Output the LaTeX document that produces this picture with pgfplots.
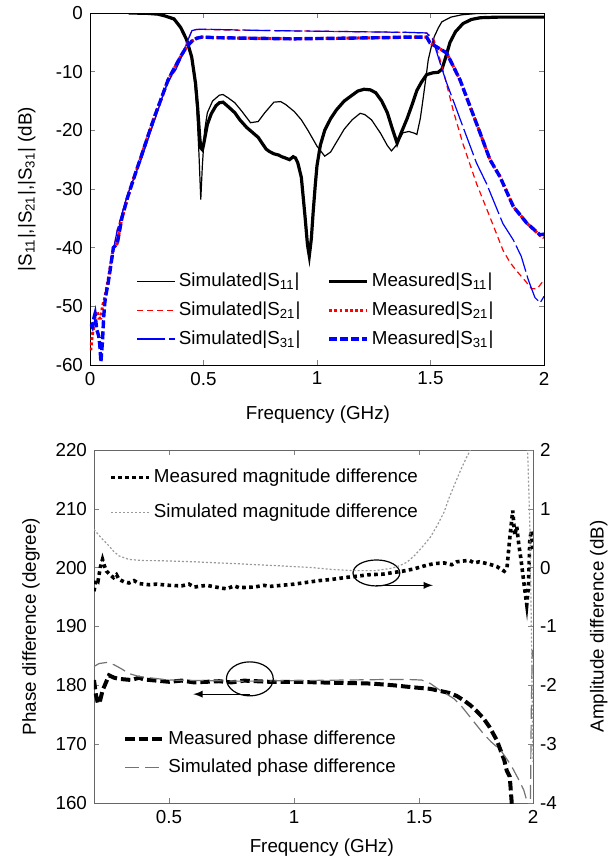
\documentclass[border=0pt]{standalone}
\usepackage{pgfplots}
\pgfplotsset{compat=1.18}
\usepackage{fontspec}
\setmainfont{Liberation Sans}

\newcommand{\fs}{\fontsize{9.4}{11}\selectfont}
\pgfplotsset{
  mplot/.style={
    scale only axis, tick align=inside, major tick length=2.5pt,
    /pgf/number format/assume math mode=true,
    tick label style={font=\fs}, label style={font=\fs},
    legend style={font=\fs, draw=none, fill=none, anchor=north west,
                  inner sep=0pt, nodes={inner sep=1.5pt}},
    legend cell align=left,
    legend image code/.code={\draw[##1] (0pt,0pt) -- (19pt,0pt);},
    ylabel style={anchor=center},
    xlabel style={anchor=center},
  },
}

\begin{document}
\begin{tikzpicture}
\useasboundingbox (0,0) rectangle (305.5pt,431.5pt);

% ---------------- top panel: S-parameters ----------------
\begin{axis}[mplot,
  at={(45pt,249pt)}, anchor=south west, width=227pt, height=176pt,
  xmin=0, xmax=2, ymin=-60, ymax=0,
  xtick={0,0.5,1,1.5,2}, ytick={-60,-50,-40,-30,-20,-10,0},
  xtick pos=both, ytick pos=both,
  xlabel={Frequency (GHz)},
  ylabel={|S\textsubscript{11}|,|S\textsubscript{21}|,|S\textsubscript{31}| (dB)},
  xlabel style={at={(axis description cs:0.502,-0.14)}},
  ylabel style={at={(axis description cs:-0.139,0.5)}},
  legend columns=2,
  legend style={at={(0.102,0.27)}, row sep=3pt,
                /tikz/every even column/.append style={column sep=12pt}},
]
% simulated S11
\addplot[black, line width=0.6pt] coordinates {
(0.17,0) (0.25,-0.05) (0.3,-0.2) (0.33,-0.5) (0.37,-1.2) (0.41,-3) (0.44,-6)
(0.457,-10) (0.47,-16) (0.48,-24) (0.488,-31.8) (0.495,-26) (0.505,-20)
(0.517,-17) (0.54,-15) (0.57,-14) (0.586,-13.9) (0.61,-14.5) (0.638,-15.3)
(0.67,-16.8) (0.707,-18.7) (0.741,-18.5) (0.77,-17) (0.81,-15.2) (0.84,-15.1)
(0.862,-15.6) (0.9,-16.8) (0.931,-18.2) (0.96,-20) (1.0,-22.7) (1.034,-24.4)
(1.06,-23.7) (1.086,-22) (1.12,-19.8) (1.155,-18.2) (1.19,-17.1) (1.21,-17.3)
(1.24,-18.2) (1.28,-20.5) (1.31,-22.6) (1.328,-23.5) (1.35,-22.5) (1.379,-20.4)
(1.405,-20.2) (1.43,-20.5) (1.44,-20.7) (1.455,-18) (1.466,-15) (1.48,-11)
(1.49,-8) (1.505,-5.5) (1.517,-4) (1.535,-2.5) (1.55,-1.5) (1.59,-0.7)
(1.638,-0.3) (1.7,-0.1) (1.845,0)};
\addlegendentry{Simulated|S\textsubscript{11}|}
% measured S11
\addplot[black, line width=1.6pt] coordinates {
(0.17,0) (0.25,-0.05) (0.3,-0.2) (0.33,-0.5) (0.37,-1) (0.4,-2.5) (0.425,-4.5)
(0.448,-7.5) (0.465,-12) (0.474,-16) (0.483,-21) (0.488,-23) (0.495,-23.3)
(0.5,-22.5) (0.517,-19) (0.534,-17.2) (0.555,-15.8) (0.57,-15.3) (0.586,-15.2)
(0.61,-16) (0.638,-17) (0.66,-18.2) (0.69,-19.5) (0.72,-20.5) (0.741,-21.2)
(0.76,-22.3) (0.776,-23.2) (0.79,-23.6) (0.81,-24) (0.83,-24.2) (0.845,-24.5)
(0.86,-24.7) (0.879,-25) (0.895,-24.5) (0.905,-24.7) (0.915,-25.5) (0.931,-28)
(0.948,-35) (0.958,-39.5) (0.966,-41.4) (0.975,-38.5) (0.983,-34) (0.992,-29.5)
(1.0,-26) (1.015,-22.5) (1.034,-20) (1.06,-18) (1.086,-16.5) (1.12,-15)
(1.155,-14) (1.18,-13.3) (1.207,-13) (1.235,-13.1) (1.259,-13.6) (1.285,-15)
(1.31,-17) (1.33,-19.5) (1.353,-22.2) (1.37,-20.5) (1.397,-18) (1.42,-15.5)
(1.44,-13.2) (1.46,-11.8) (1.483,-10.5) (1.51,-10.2) (1.534,-10.1) (1.55,-9.6)
(1.565,-7.8) (1.586,-5) (1.61,-3.2) (1.643,-1.8) (1.68,-1.1) (1.72,-0.8)
(1.8,-0.7) (2.0,-0.7)};
\addlegendentry{Measured|S\textsubscript{11}|}
% simulated S21
\addplot[red, line width=0.6pt, dash pattern=on 3pt off 2pt] coordinates {
(0.1,-41) (0.12,-37) (0.165,-31) (0.2,-27.5) (0.225,-25) (0.26,-21) (0.3,-16.5)
(0.33,-13) (0.352,-11.2) (0.38,-9.5) (0.404,-7.4) (0.425,-5.2) (0.449,-3)
(0.47,-2.8) (0.5,-2.8) (0.6,-2.9) (0.8,-3.0) (1.0,-3.1) (1.2,-3.2) (1.4,-3.3)
(1.483,-3.4) (1.515,-4.5) (1.542,-7.9) (1.57,-12) (1.6,-16.6) (1.643,-22.3)
(1.703,-29.1) (1.762,-34.8) (1.82,-40.5) (1.85,-42.5) (1.88,-44) (1.914,-45.5)
(1.945,-47) (1.97,-47) (2.0,-45.5)};
\addlegendentry{Simulated|S\textsubscript{21}|}
% measured S21
\addplot[red, line width=1.5pt, dash pattern=on 1.4pt off 1.2pt] coordinates {
(0.003,-57.5) (0.01,-55) (0.017,-53.4) (0.025,-51) (0.03,-50.8) (0.04,-52)
(0.048,-52) (0.055,-50) (0.065,-48.6) (0.08,-45.5) (0.103,-40) (0.12,-39.3)
(0.14,-35) (0.165,-31.5) (0.19,-28.5) (0.225,-24.5) (0.255,-21) (0.284,-17.7)
(0.31,-15) (0.344,-11.4) (0.37,-9.5) (0.404,-7.1) (0.425,-5.8) (0.449,-4.8)
(0.47,-4.3) (0.494,-4.1) (0.55,-4.2) (0.7,-4.3) (0.9,-4.4) (1.1,-4.3)
(1.3,-4.2) (1.4,-4.1) (1.483,-4.1) (1.498,-5.1) (1.571,-6.8) (1.63,-11.4)
(1.674,-15.9) (1.718,-20.4) (1.762,-25) (1.806,-27.9) (1.865,-33) (1.924,-35.8)
(1.982,-37.9) (2.0,-38.3)};
\addlegendentry{Measured|S\textsubscript{21}|}
% simulated S31
\addplot[blue, line width=0.6pt, dash pattern=on 14pt off 2pt] coordinates {
(0.1,-41) (0.12,-37) (0.165,-31) (0.2,-27.5) (0.225,-25) (0.26,-21) (0.3,-16.5)
(0.33,-13) (0.352,-11.2) (0.38,-9.5) (0.404,-7.4) (0.425,-5.2) (0.449,-3)
(0.47,-2.8) (0.5,-2.75) (0.6,-2.85) (0.8,-3.0) (1.0,-3.1) (1.2,-3.2) (1.4,-3.3)
(1.483,-3.4) (1.51,-4.5) (1.542,-8.5) (1.57,-11.8) (1.6,-14.9) (1.643,-19.4)
(1.703,-25.6) (1.747,-29.1) (1.819,-35.9) (1.865,-38.7) (1.9,-41.5)
(1.931,-45.5) (1.96,-48.5) (1.983,-49.4) (2.0,-48.3)};
\addlegendentry{Simulated|S\textsubscript{31}|}
% measured S31
\addplot[blue, line width=1.7pt, dash pattern=on 4pt off 1.5pt] coordinates {
(0.003,-53) (0.01,-53.5) (0.017,-52) (0.022,-51.3) (0.03,-54) (0.038,-55)
(0.043,-56.5) (0.048,-59.5) (0.055,-56) (0.06,-52) (0.065,-49.5) (0.069,-48.3)
(0.08,-46) (0.09,-43.5) (0.103,-40) (0.12,-39.3) (0.14,-35) (0.165,-31.5)
(0.19,-28.5) (0.225,-24.5) (0.255,-21) (0.284,-17.7) (0.31,-15) (0.344,-11.4)
(0.37,-9.5) (0.404,-7.1) (0.425,-5.8) (0.449,-4.8) (0.47,-4.3) (0.494,-4.1)
(0.55,-4.2) (0.7,-4.3) (0.9,-4.4) (1.1,-4.3) (1.3,-4.2) (1.4,-4.1)
(1.483,-4.1) (1.498,-5.1) (1.571,-6.8) (1.63,-11.4) (1.674,-15.9) (1.718,-20.4)
(1.762,-25) (1.806,-27.9) (1.865,-33) (1.924,-35.8) (1.982,-37.8) (2.0,-37.7)};
\addlegendentry{Measured|S\textsubscript{31}|}
\end{axis}

% ---------------- bottom panel: phase (left axis) ----------------
\begin{axis}[mplot,
  at={(47pt,30pt)}, anchor=south west, width=219.5pt, height=176.5pt,
  xmin=0.2, xmax=1.955, ymin=160, ymax=220,
  xtick={0.5,1,1.5,1.955}, xticklabels={0.5,1,1.5,2},
  ytick={160,170,180,190,200,210,220},
  xtick pos=both, ytick pos=left,
  axis line style={black!60},
  xlabel={Frequency (GHz)}, ylabel={Phase difference (degree)},
  xlabel style={at={(axis description cs:0.519,-0.127)}},
  ylabel style={at={(axis description cs:-0.1435,0.5)}},
  legend style={at={(0.066,0.215)}, row sep=3pt},
]
\addplot[black, line width=2pt, dash pattern=on 4.7pt off 2pt] coordinates {
(0.2,180.9) (0.208,178.3) (0.216,176.9) (0.225,177.5) (0.234,179.1) (0.26,181.7)
(0.28,181.3) (0.3,181.1) (0.35,180.9) (0.38,181.3) (0.4,181.0) (0.45,180.8)
(0.5,180.6) (0.55,180.8) (0.6,180.5) (0.7,180.7) (0.75,180.5) (0.8,180.8)
(0.9,180.6) (1.0,180.6) (1.1,180.5) (1.2,180.4) (1.31,180.3) (1.4,180.0)
(1.466,179.7) (1.544,179.4) (1.6,178.9) (1.62,178.7) (1.65,178.2) (1.68,177.4)
(1.705,176.6) (1.73,175.6) (1.755,174.5) (1.78,173) (1.81,170.7) (1.825,169)
(1.84,167.3) (1.85,165.5) (1.862,164.5) (1.87,160) (1.873,158)};
\addlegendentry{Measured phase difference}
\addplot[black!55, line width=0.6pt, dash pattern=on 7pt off 3pt] coordinates {
(0.2,183.2) (0.22,183.7) (0.253,183.9) (0.28,183.5) (0.31,182.8) (0.34,182)
(0.38,181.5) (0.42,181.3) (0.5,180.9) (0.8,180.7) (1.0,180.8) (1.2,180.9)
(1.387,181) (1.45,181) (1.51,180.9) (1.545,180.3) (1.575,179.4) (1.61,178.5)
(1.64,177.7) (1.67,176.4) (1.7,174.8) (1.73,173.2) (1.76,171.6) (1.79,170.3)
(1.825,169) (1.85,167.5) (1.87,166.2) (1.9,163.8) (1.918,162.2) (1.933,160)
(1.937,157) (1.944,157) (1.948,175) (1.952,186)};
\addlegendentry{Simulated phase difference}
\draw[black, line width=0.6pt] (axis cs:1.329,199.1) ellipse [x radius=11.7pt, y radius=6.5pt];
\draw[black, line width=0.6pt, -latex] (axis cs:1.329,197.0) -- (axis cs:1.555,197.0);
\draw[black, line width=0.6pt] (axis cs:0.823,181.1) ellipse [x radius=11.7pt, y radius=8.5pt];
\draw[black, line width=0.6pt, -latex] (axis cs:0.823,178.5) -- (axis cs:0.597,178.5);
\end{axis}

% ---------------- bottom panel: amplitude (right axis) ----------------
\begin{axis}[mplot,
  at={(47pt,30pt)}, anchor=south west, width=219.5pt, height=176.5pt,
  xmin=0.2, xmax=1.955, ymin=-4, ymax=2,
  axis x line=none, axis y line*=right,
  axis line style={black!60},
  ytick={-4,-3,-2,-1,0,1,2},
  ylabel={Amplitude difference (dB)},
  ylabel style={at={(axis description cs:1.15,0.5)}},
  legend style={at={(0.034,0.955)}, row sep=6pt},
]
\addplot[black, line width=1.8pt, dash pattern=on 1.8pt off 1.7pt] coordinates {
(0.2,-0.4) (0.208,-0.2) (0.216,-0.23) (0.225,0.0) (0.234,0.14) (0.24,0.05)
(0.25,-0.06) (0.265,-0.12) (0.278,-0.17) (0.29,-0.12) (0.3,-0.2) (0.32,-0.24)
(0.34,-0.26) (0.36,-0.22) (0.38,-0.27) (0.42,-0.29) (0.45,-0.28) (0.5,-0.3)
(0.55,-0.31) (0.58,-0.28) (0.6,-0.33) (0.65,-0.3) (0.7,-0.34) (0.73,-0.36)
(0.76,-0.31) (0.78,-0.34) (0.84,-0.33) (0.88,-0.3) (0.9,-0.32) (0.95,-0.3)
(1.0,-0.28) (1.05,-0.25) (1.1,-0.22) (1.15,-0.2) (1.2,-0.17) (1.26,-0.14)
(1.3,-0.12) (1.356,-0.11) (1.4,-0.08) (1.434,-0.06) (1.48,-0.02) (1.52,0.03)
(1.56,0.07) (1.6,0.08) (1.63,0.05) (1.65,0.1) (1.7,0.125) (1.72,0.08)
(1.74,0.1) (1.78,0.06) (1.81,0.02) (1.84,-0.06) (1.851,0.0) (1.862,0.5)
(1.874,0.97) (1.882,0.55) (1.89,0.7) (1.898,0.4) (1.906,0.17) (1.914,-0.1)
(1.921,-0.34) (1.93,-0.63) (1.937,-0.3) (1.942,0.45) (1.948,0.63) (1.955,0.3)};
\addlegendentry{Measured magnitude difference}
\addplot[black!40, line width=0.6pt, dash pattern=on 1pt off 1pt] coordinates {
(0.2,0.65) (0.23,0.5) (0.26,0.37) (0.278,0.28) (0.3,0.2) (0.34,0.14) (0.4,0.12)
(0.45,0.12) (0.528,0.11) (0.6,0.1) (0.7,0.08) (0.76,0.07) (0.85,0.05)
(0.95,0.03) (1.075,0.0) (1.15,-0.03) (1.23,-0.05) (1.325,-0.05) (1.39,-0.01)
(1.42,0.03) (1.45,0.09) (1.48,0.2) (1.51,0.34) (1.545,0.52) (1.575,0.74)
(1.6,0.95) (1.62,1.19) (1.645,1.45) (1.67,1.7) (1.69,1.88) (1.705,2.0)
(1.72,2.3) (1.93,2.3) (1.935,1.8) (1.943,0.6) (1.95,-1.5) (1.955,-3.3)};
\addlegendentry{Simulated magnitude difference}
\end{axis}
\end{tikzpicture}
\end{document}
